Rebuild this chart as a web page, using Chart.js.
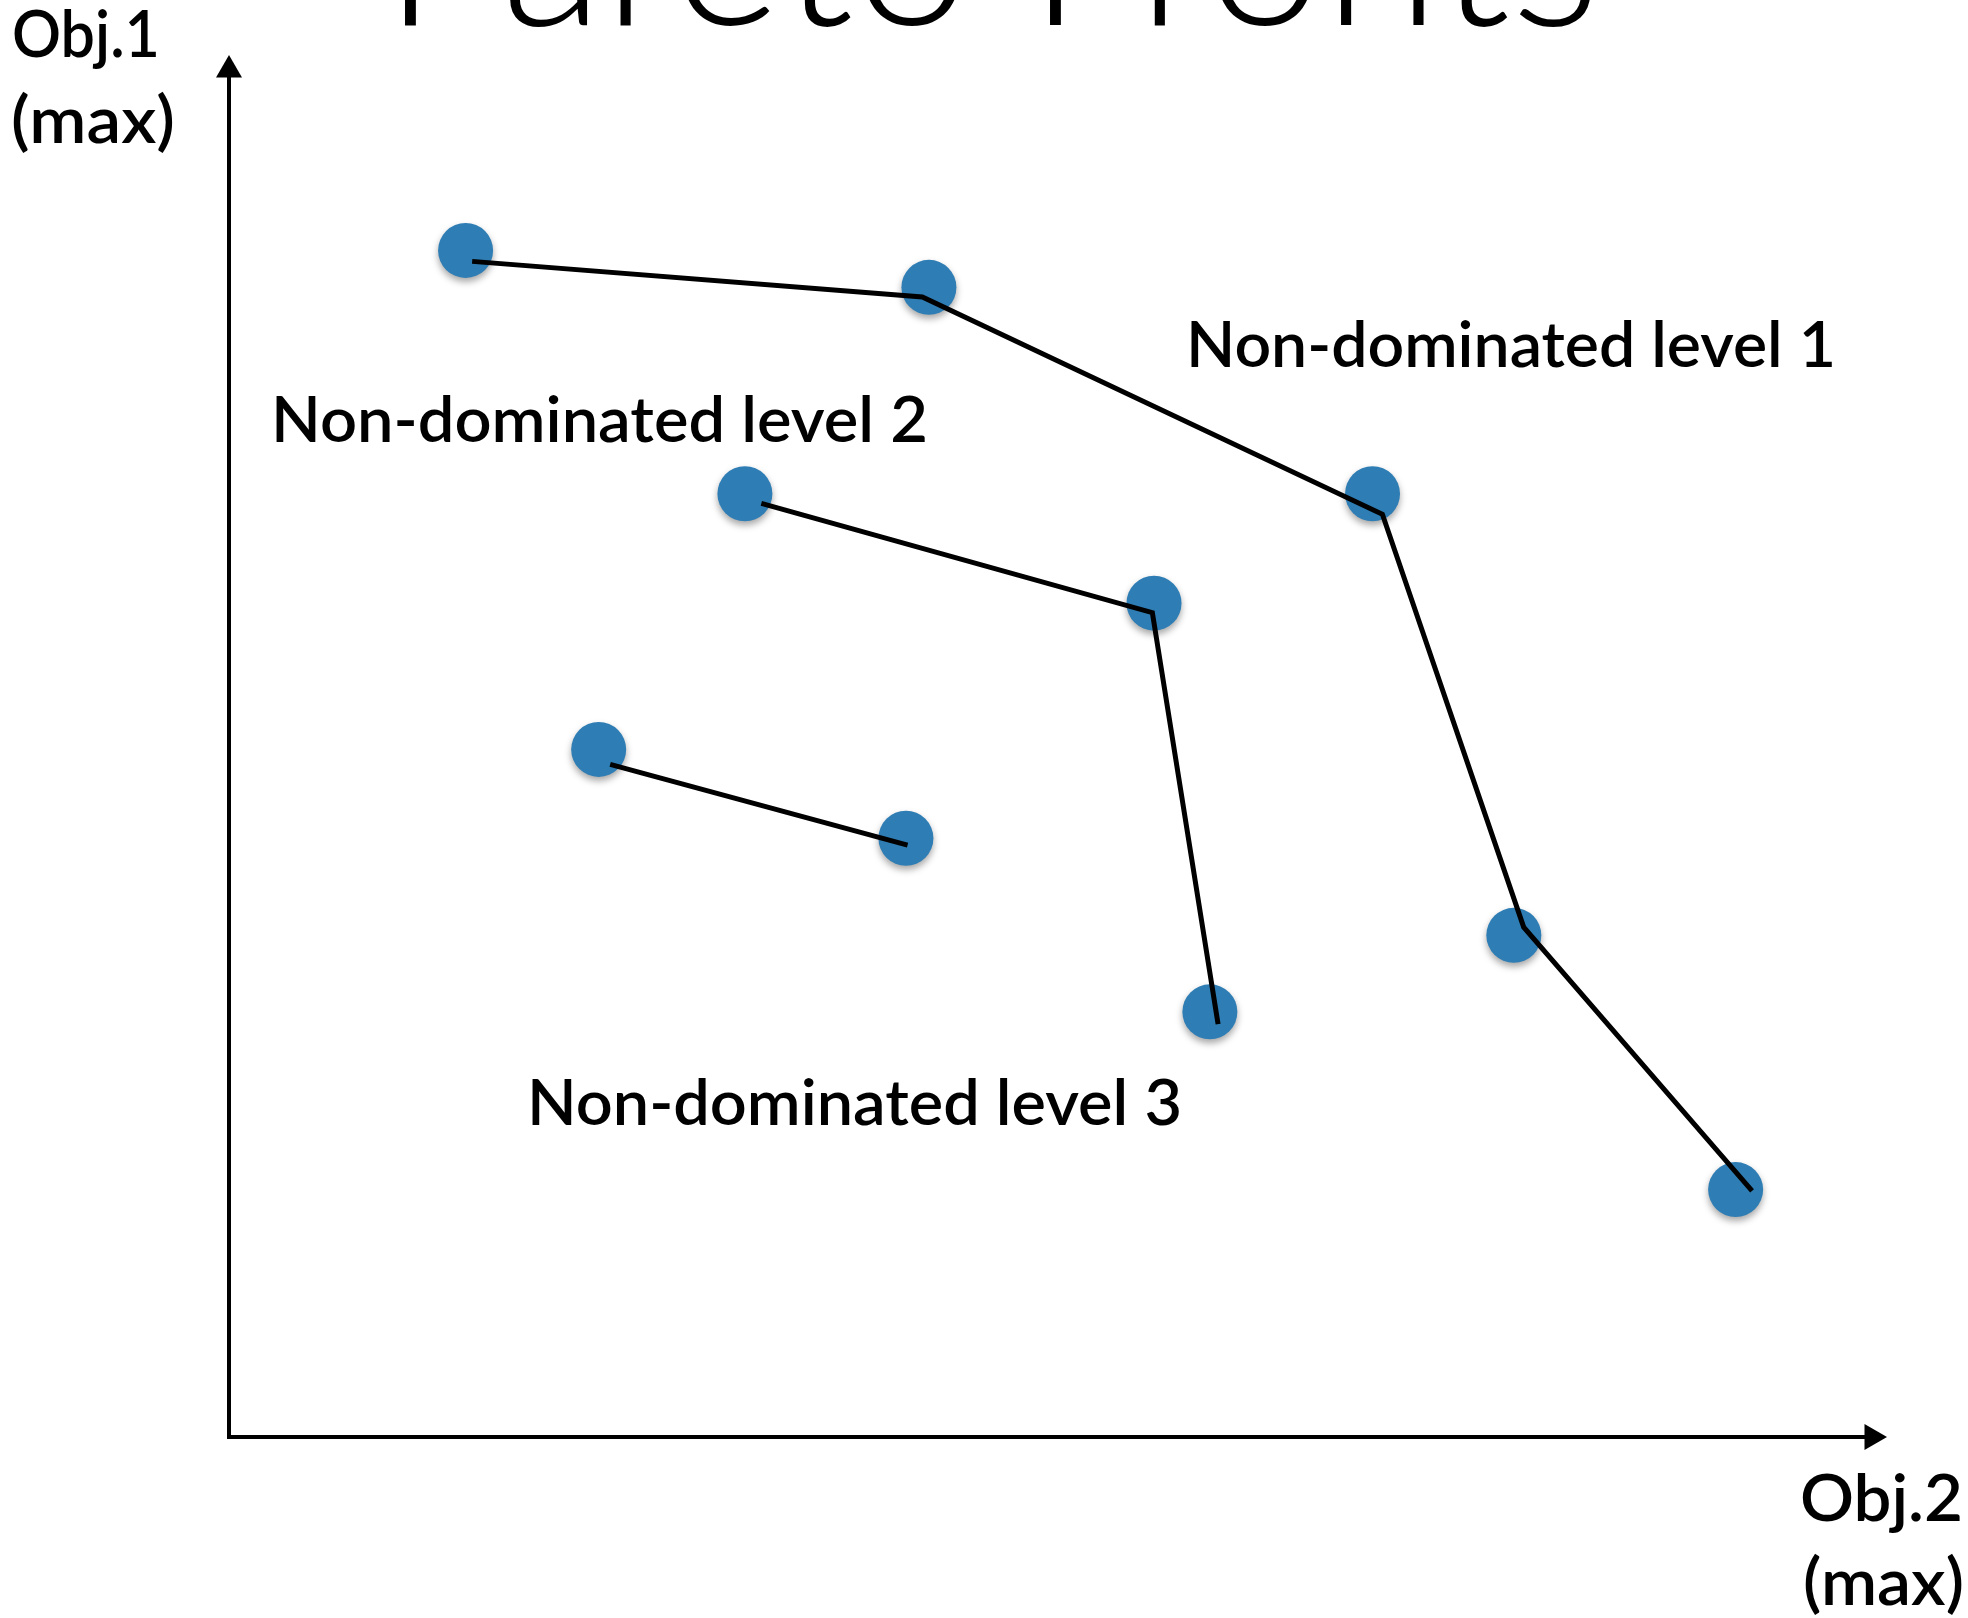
<!DOCTYPE html>
<html>
<head>
<meta charset="utf-8">
<script src="https://cdn.jsdelivr.net/npm/chart.js@4.4.1/dist/chart.umd.min.js"></script>
<style>
  html, body { margin: 0; padding: 0; background: #ffffff; }
  #wrap { width: 1968px; height: 1618px; }
</style>
</head>
<body>
<div id="wrap"><canvas id="c" width="1968" height="1618"></canvas></div>
<script>
// ---- Data (arbitrary 0-100 units on both axes) ----
const chartTitle = 'Pareto Fronts';
const xAxisLabel = ['Obj.2', '(max)'];
const yAxisLabel = ['Obj.1', '(max)'];
const frontNames = ['Non-dominated level 1', 'Non-dominated level 2', 'Non-dominated level 3'];

// solutions (dots)
const level1X = [14.4, 42.6, 69.6, 78.2, 91.7];
const level1Y = [86.8, 84.1, 69.0, 36.7, 18.1];
const level2X = [31.4, 56.3, 59.7];
const level2Y = [69.0, 61.0, 31.1];
const level3X = [22.5, 41.2];
const level3Y = [50.3, 43.8];

// hand-drawn front lines (slightly off the dot centres, as in the slide)
const front1X = [14.8, 42.2, 70.2, 78.8, 92.7];
const front1Y = [86.0, 83.4, 67.5, 37.3, 18.0];
const front2X = [32.4, 56.2, 60.2];
const front2Y = [68.3, 60.3, 30.2];
const front3X = [23.2, 41.3];
const front3Y = [49.2, 43.3];

// axes extents
const axisMin = 0;
const axisMax = 100;

const toPts = (xs, ys) => xs.map((x, i) => ({ x: x, y: ys[i] }));

const DOT = 'rgb(46,125,180)';

const dotDataset = (xs, ys) => ({
  data: toPts(xs, ys),
  showLine: false,
  pointRadius: 27.5,
  pointHoverRadius: 27.5,
  pointBackgroundColor: DOT,
  pointBorderWidth: 0,
  order: 5,
  clip: false,
  isDot: true
});
const lineDataset = (xs, ys) => ({
  data: toPts(xs, ys),
  showLine: true,
  borderColor: '#000000',
  borderWidth: 5,
  borderJoinStyle: 'miter',
  borderCapStyle: 'butt',
  pointRadius: 0,
  pointHoverRadius: 0,
  tension: 0,
  order: 1,
  clip: false
});
const axisDataset = (pts, rot) => ({
  data: pts,
  showLine: true,
  borderColor: '#000000',
  borderWidth: 4,
  borderCapStyle: 'square',
  pointRadius: [0, 15],
  pointHoverRadius: [0, 15],
  pointStyle: 'triangle',
  rotation: rot,
  pointBackgroundColor: '#000000',
  pointBorderWidth: 0,
  order: 2,
  clip: false
});

const shadowPlugin = {
  id: 'dotShadow',
  beforeDatasetDraw(chart, args) {
    const ds = chart.data.datasets[args.index];
    if (ds.isDot) {
      const ctx = chart.ctx;
      ctx.save();
      ctx.shadowColor = 'rgba(0,0,0,0.35)';
      ctx.shadowBlur = 7;
      ctx.shadowOffsetX = 0;
      ctx.shadowOffsetY = 4;
    }
  },
  afterDatasetDraw(chart, args) {
    const ds = chart.data.datasets[args.index];
    if (ds.isDot) chart.ctx.restore();
  }
};

function fitSize(ctx, text, weight, family, width) {
  ctx.font = weight + ' 100px ' + family;
  return 100 * width / ctx.measureText(text).width;
}

// draw text at a given font size, squeezed horizontally to a target width
function drawSqueezed(ctx, text, font, x, y, width, alignRight) {
  ctx.font = font;
  const w = ctx.measureText(text).width;
  const k = width / w;
  ctx.save();
  ctx.textAlign = 'left';
  const left = alignRight ? x - width : x;
  ctx.translate(left, y);
  ctx.scale(k, 1);
  ctx.fillText(text, 0, 0);
  ctx.restore();
}

const textPlugin = {
  id: 'slideText',
  afterDraw(chart) {
    const ctx = chart.ctx;
    ctx.save();
    ctx.fillStyle = '#000000';
    ctx.textBaseline = 'alphabetic';
    const fam = "'Lato Semibold', Lato, 'Open Sans', sans-serif";

    // big title, cut off at the top of the slide
    const tFam = "'Lato Light', Lato, sans-serif";
    let s = fitSize(ctx, chartTitle, '300', tFam, 1217);
    ctx.font = '300 ' + s + 'px ' + tFam;
    ctx.textAlign = 'left';
    ctx.fillText(chartTitle, 383, 25);

    // axis labels
    const axisFont = '600 66px ' + fam;
    drawSqueezed(ctx, yAxisLabel[0], axisFont, 12, 57, 148, false);
    drawSqueezed(ctx, yAxisLabel[1], axisFont, 11, 143, 164, false);
    drawSqueezed(ctx, xAxisLabel[0], axisFont, 1963, 1521, 163, true);
    drawSqueezed(ctx, xAxisLabel[1], axisFont, 1964, 1605, 161, true);

    // front labels
    const lblFont = '600 63px ' + fam;
    drawSqueezed(ctx, frontNames[0], lblFont, 1186, 367, 650, false);
    drawSqueezed(ctx, frontNames[1], lblFont, 271, 442, 657, false);
    drawSqueezed(ctx, frontNames[2], lblFont, 527, 1125, 655, false);
    ctx.restore();
  }
};

new Chart(document.getElementById('c'), {
  type: 'scatter',
  data: {
    datasets: [
      lineDataset(front1X, front1Y),
      lineDataset(front2X, front2Y),
      lineDataset(front3X, front3Y),
      axisDataset([{ x: axisMin, y: axisMin }, { x: axisMax, y: axisMin }], 90),
      axisDataset([{ x: axisMin, y: axisMin }, { x: axisMin, y: axisMax }], 0),
      dotDataset(level1X, level1Y),
      dotDataset(level2X, level2Y),
      dotDataset(level3X, level3Y)
    ]
  },
  options: {
    responsive: false,
    devicePixelRatio: 1,
    animation: false,
    events: [],
    layout: { padding: { left: 229, right: 96, top: 70, bottom: 181 } },
    scales: {
      x: { type: 'linear', min: axisMin, max: axisMax, display: false },
      y: { type: 'linear', min: axisMin, max: axisMax, display: false }
    },
    plugins: {
      legend: { display: false },
      tooltip: { enabled: false },
      title: { display: false }
    }
  },
  plugins: [shadowPlugin, textPlugin]
});
</script>
</body>
</html>
